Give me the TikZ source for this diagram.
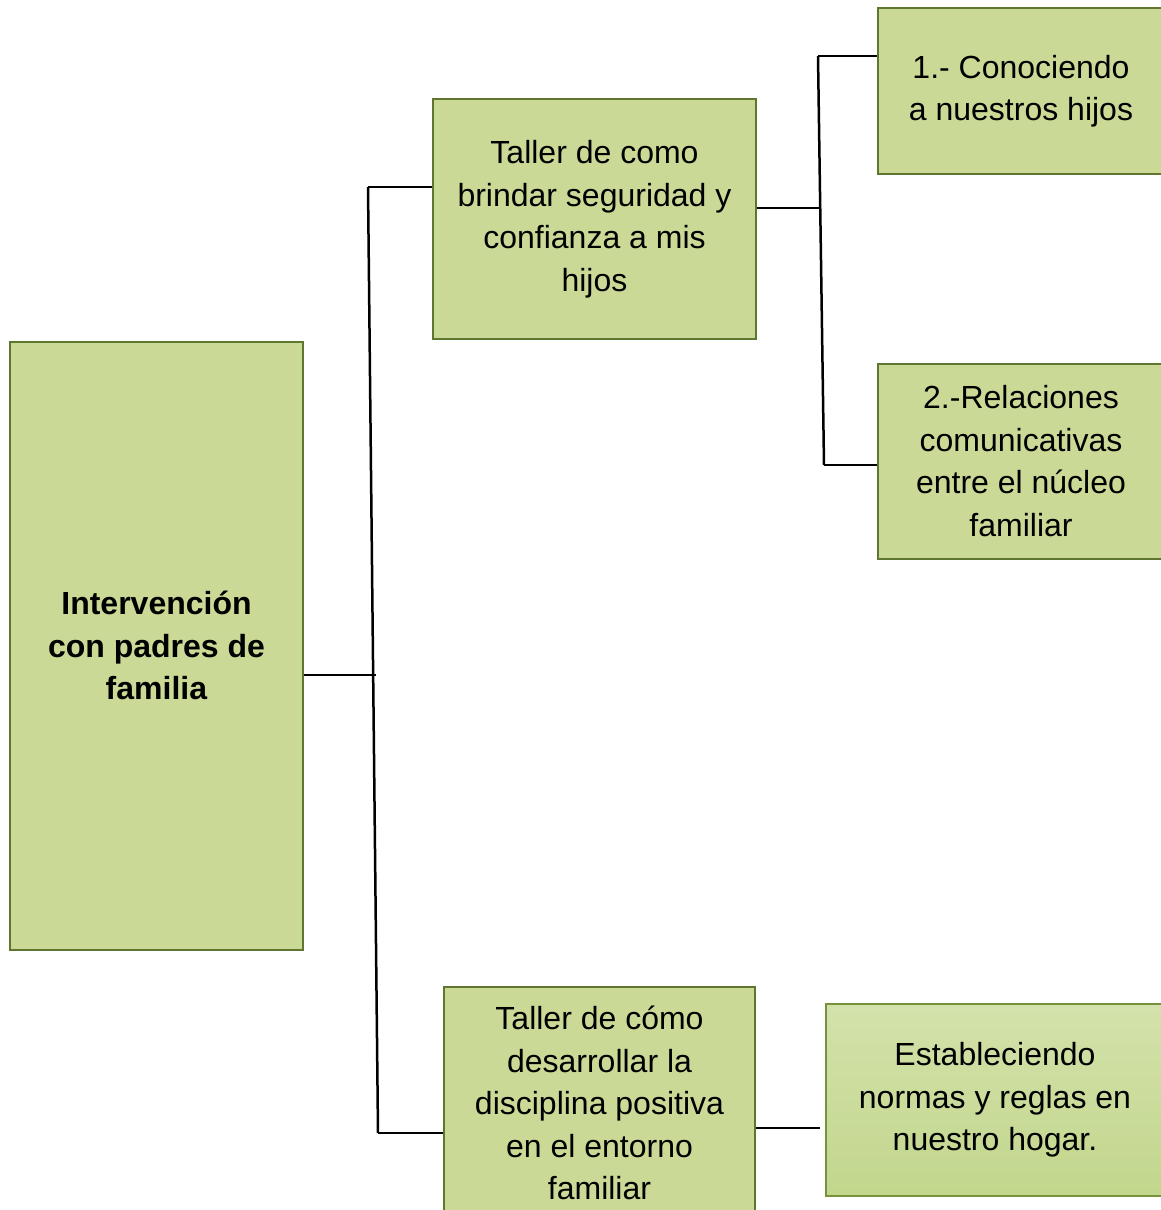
\documentclass[tikz,border=0pt]{standalone}
\usepackage{fontspec}
\setmainfont{Liberation Sans}
\begin{document}
\begin{tikzpicture}[x=1pt,y=-1pt,
  box/.style={draw=boxline,fill=boxfill,line width=2pt,inner sep=0pt,align=center,
    font=\fontsize{32}{42.5}\selectfont},
  gbox/.style={box,draw=gline,top color=gtop,bottom color=gbot},
  conn/.style={draw=black,line width=2.5pt}]
\definecolor{boxfill}{HTML}{CADA96}
\definecolor{boxline}{HTML}{5E7630}
\definecolor{gtop}{HTML}{D3E2AB}
\definecolor{gbot}{HTML}{C2D68C}
\definecolor{gline}{HTML}{76923C}
\useasboundingbox (0,0) rectangle (1161,1210);
\node[box,minimum width=293pt,minimum height=608pt] (main) at (156.5,645.5)
  {\textbf{Intervención}\\\textbf{con padres de}\\\textbf{familia}};
\node[box,minimum width=323pt,minimum height=240pt] (A) at (594.5,219)
  {Taller de como\\brindar seguridad y\\confianza a mis\\hijos};
\node[box,minimum width=286pt,minimum height=166pt] (N1) at (1021,91)
  {1.- Conociendo\\a nuestros hijos};
\node[box,minimum width=286pt,minimum height=195pt] (N2) at (1021,461)
  {2.-Relaciones\\comunicativas\\entre el núcleo\\familiar};
\node[box,minimum width=311pt,minimum height=233pt] (B) at (599.5,1103)
  {Taller de cómo\\desarrollar la\\disciplina positiva\\en el entorno\\familiar};
\node[gbox,minimum width=338pt,minimum height=192pt] (C) at (995,1100)
  {Estableciendo\\normas y reglas en\\nuestro hogar.};
\coordinate (j1) at (376,675);
\coordinate (t1) at (368,187);
\coordinate (b1) at (378,1133);
\coordinate (j2) at (820,208);
\coordinate (t2) at (818,56);
\coordinate (b2) at (824,465);
\coordinate (j3) at (820,1128);
\draw[conn] (j1 -| main.east) -- (j1);
\draw[conn] (t1) -- (b1);
\draw[conn] (t1) -- (t1 -| A.west);
\draw[conn] (b1) -- (b1 -| B.west);
\draw[conn] (j2 -| A.east) -- (j2);
\draw[conn] (t2) -- (b2);
\draw[conn] (t2) -- (t2 -| N1.west);
\draw[conn] (b2) -- (b2 -| N2.west);
\draw[conn] (j3 -| B.east) -- (j3);
\end{tikzpicture}
\end{document}
